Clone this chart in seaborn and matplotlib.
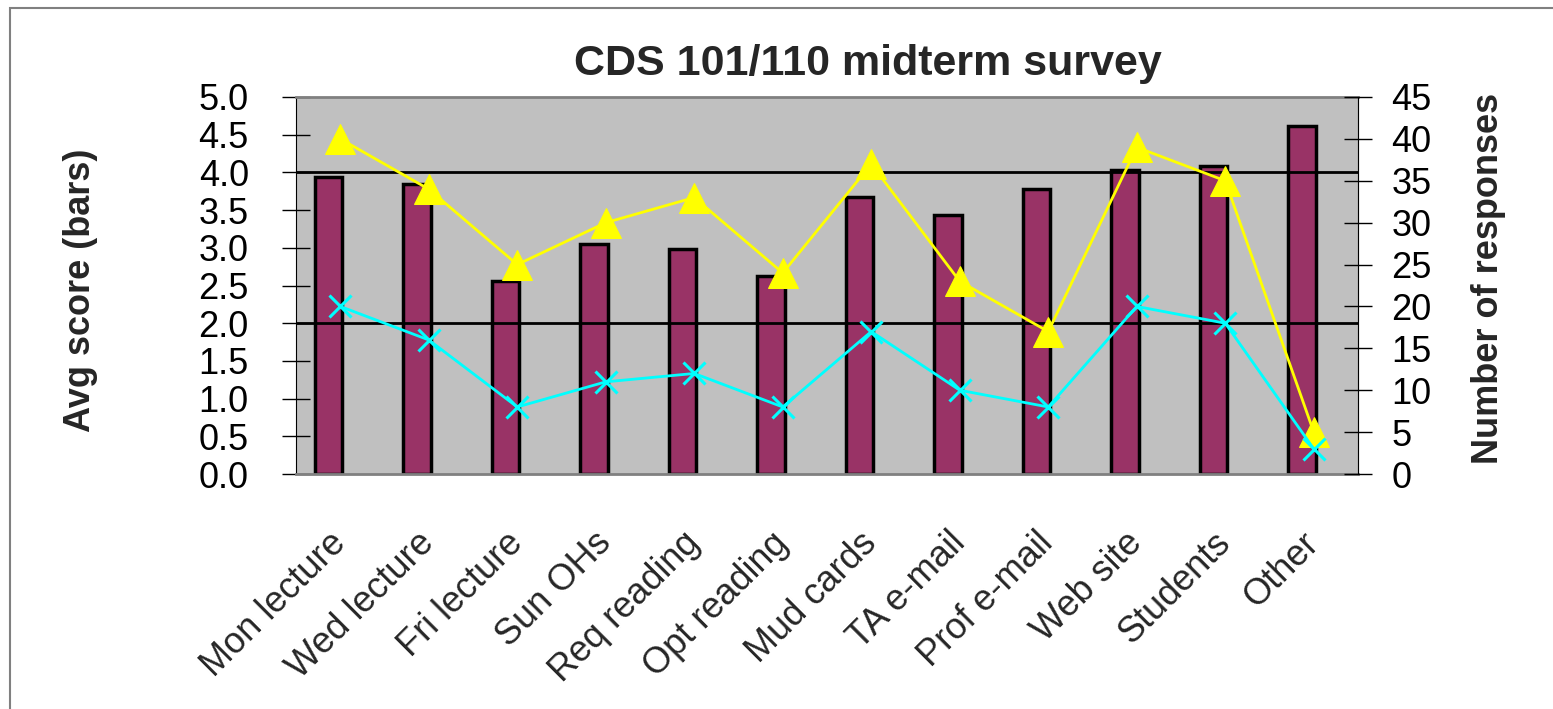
import numpy as np
import pandas as pd
import matplotlib
matplotlib.use("Agg")
import matplotlib.pyplot as plt
import seaborn as sns
from matplotlib.ticker import FixedLocator, FormatStrFormatter
from matplotlib.patches import Rectangle

# values
categories = ["Mon lecture", "Wed lecture", "Fri lecture", "Sun OHs", "Req reading",
              "Opt reading", "Mud cards", "TA e-mail", "Prof e-mail", "Web site",
              "Students", "Other"]
avg_score = [3.94, 3.84, 2.56, 3.05, 2.98, 2.62, 3.67, 3.44, 3.78, 4.03, 4.09, 4.61]
responses_yellow = [40, 34, 25, 30, 33, 24, 37, 23, 17, 39, 35, 5]
responses_cyan = [20, 16, 8, 11, 12, 8, 17, 10, 8, 20, 18, 3]
score_ticks = np.arange(0, 5.01, 0.5)
count_ticks = np.arange(0, 46, 5)
grid_levels = [2.0, 4.0]

sns.set_style("white")
plt.rcParams["font.family"] = ["Liberation Sans", "DejaVu Sans"]

fig = plt.figure(figsize=(15.53, 7.09), dpi=100)
ax = fig.add_axes([296 / 1553, 1 - 474 / 709, 1062 / 1553, 377 / 709])

df = pd.DataFrame({"category": categories, "score": avg_score})
sns.barplot(data=df, x="category", y="score", color="#993366", saturation=1,
            width=0.31, edgecolor="black", linewidth=2.5, ax=ax, zorder=2)
# excel leaves room for an empty second series, bars sit left of centre
for p in ax.patches:
    p.set_x(p.get_x() - 0.133)

ax.set_facecolor("#C0C0C0")
ax.set_xlim(-0.5, len(categories) - 0.5)
ax.set_ylim(0, 5)
for g in grid_levels:
    ax.axhline(g, color="black", linewidth=2, zorder=3)

ax.set_yticks(score_ticks)
ax.yaxis.set_major_formatter(FormatStrFormatter("%.1f"))
ax.tick_params(axis="y", direction="inout", length=20, width=1, pad=24,
               labelsize=26, colors="black")
ax.set_xticks(np.arange(len(categories)))
ax.set_xticklabels(categories, rotation=45, ha="right", va="center",
                   rotation_mode="anchor")
ax.xaxis.set_minor_locator(FixedLocator(np.arange(-0.5, len(categories), 1.0)))
ax.tick_params(axis="x", which="major", length=0, pad=46, labelsize=26)
ax.tick_params(axis="x", which="minor", direction="inout", length=16, width=1,
               color="black")
ax.set_xlabel("")
ax.set_ylabel("")

for side in ["top", "bottom"]:
    ax.spines[side].set_color("#808080")
    ax.spines[side].set_linewidth(2)
ax.spines["left"].set_color("black")
ax.spines["right"].set_color("#808080")

ax2 = ax.twinx()
x = np.arange(len(categories))
sns.lineplot(x=x, y=responses_yellow, ax=ax2, color="#FFFF00", linewidth=2,
             marker="^", markersize=21, markeredgecolor="#FFFF00")
sns.lineplot(x=x, y=responses_cyan, ax=ax2, color="#00FFFF", linewidth=2,
             marker="x", markersize=16, markeredgewidth=2.2, markeredgecolor="#00FFFF")
ax2.set_ylim(0, 45)
ax2.set_xlim(-0.5, len(categories) - 0.5)
ax2.set_yticks(count_ticks)
ax2.tick_params(axis="y", direction="inout", length=20, width=1, pad=14,
                labelsize=26, colors="black")
for side in ["top", "bottom", "left"]:
    ax2.spines[side].set_visible(False)
ax2.spines["right"].set_color("black")

fig.text(868 / 1553, 1 - 75 / 709, "CDS 101/110 midterm survey", ha="center",
         va="baseline", fontsize=31, fontweight="bold")
fig.text(80 / 1553, 1 - 290 / 709, "Avg score (bars)", rotation=90, ha="center",
         va="center", fontsize=26, fontweight="bold")
fig.text(1488 / 1553, 1 - 278 / 709, "Number of responses", rotation=90, ha="center",
         va="center", fontsize=26, fontweight="bold")

fig.patches.append(Rectangle((10 / 1553, -0.1), 1.2, 0.1 + 1 - 8 / 709,
                             transform=fig.transFigure, fill=False,
                             edgecolor="#808080", linewidth=1.5))

fig.savefig("out.png", dpi=100)
